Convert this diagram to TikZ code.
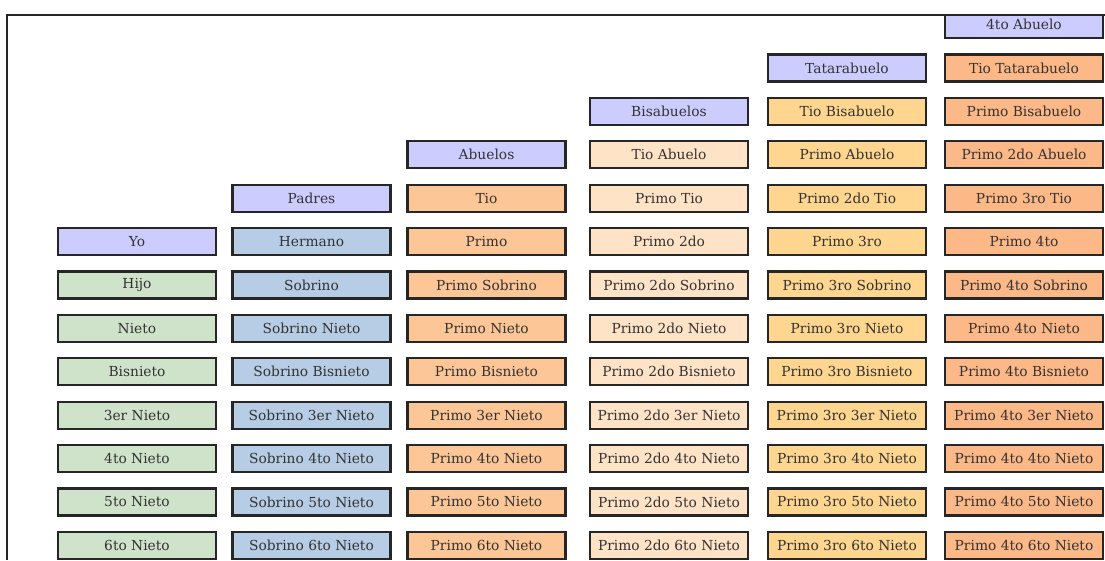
\documentclass[tikz,border=0pt]{standalone}
\usepackage{fontspec}
\setmainfont{DejaVu Serif}
\usetikzlibrary{positioning}
\definecolor{lavender}{HTML}{CCCCFF}
\definecolor{sage}{HTML}{CFE3CA}
\definecolor{steel}{HTML}{B7CDE5}
\definecolor{apricot}{HTML}{FDC697}
\definecolor{peach}{HTML}{FFE3C7}
\definecolor{honey}{HTML}{FFD68F}
\definecolor{salmon}{HTML}{FDB887}

\begin{document}
\begin{tikzpicture}[x=1pt, y=1pt, node distance=43.4pt,
    cell/.style = {draw=black!85, line width=2.2pt, minimum width=158pt, minimum height=27pt, inner sep=0pt, font=\fontsize{13.8}{15}\selectfont, text=black!80},
    top/.style = {fill=lavender}, c1/.style = {fill=sage}, c2/.style = {fill=steel},
    c3/.style = {fill=apricot}, c4/.style = {fill=peach}, c5/.style = {fill=honey}, c6/.style = {fill=salmon}]
    \useasboundingbox (0,0) rectangle (1105,-560);
    \clip (0,-14) rectangle (1105,-560);
    % column 1
    \node[cell, top] (yo) at (137,-241.5) {Yo};
    \node[cell, c1, below of=yo] (hijo) {Hijo};
    \node[cell, c1, below of=hijo] (nieto) {Nieto};
    \node[cell, c1, below of=nieto] (bisnieto) {Bisnieto};
    \node[cell, c1, below of=bisnieto] (nieto3) {3er Nieto};
    \node[cell, c1, below of=nieto3] (nieto4) {4to Nieto};
    \node[cell, c1, below of=nieto4] (nieto5) {5to Nieto};
    \node[cell, c1, below of=nieto5] (nieto6) {6to Nieto};
    % column 2
    \node[cell, top] (padres) at (311.5,-198.1) {Padres};
    \node[cell, c2, below of=padres] (hermano) {Hermano};
    \node[cell, c2, below of=hermano] (sobrino) {Sobrino};
    \node[cell, c2, below of=sobrino] (sobN) {Sobrino Nieto};
    \node[cell, c2, below of=sobN] (sobB) {Sobrino Bisnieto};
    \node[cell, c2, below of=sobB] (sob3) {Sobrino 3er Nieto};
    \node[cell, c2, below of=sob3] (sob4) {Sobrino 4to Nieto};
    \node[cell, c2, below of=sob4] (sob5) {Sobrino 5to Nieto};
    \node[cell, c2, below of=sob5] (sob6) {Sobrino 6to Nieto};
    % column 3
    \node[cell, top] (abuelos) at (486.5,-154.7) {Abuelos};
    \node[cell, c3, below of=abuelos] (tio) {Tio};
    \node[cell, c3, below of=tio] (primo) {Primo};
    \node[cell, c3, below of=primo] (p1S) {Primo Sobrino};
    \node[cell, c3, below of=p1S] (p1N) {Primo Nieto};
    \node[cell, c3, below of=p1N] (p1B) {Primo Bisnieto};
    \node[cell, c3, below of=p1B] (p13) {Primo 3er Nieto};
    \node[cell, c3, below of=p13] (p14) {Primo 4to Nieto};
    \node[cell, c3, below of=p14] (p15) {Primo 5to Nieto};
    \node[cell, c3, below of=p15] (p16) {Primo 6to Nieto};
    % column 4
    \node[cell, top] (bisabuelos) at (669,-111.3) {Bisabuelos};
    \node[cell, c4, below of=bisabuelos] (tioA) {Tio Abuelo};
    \node[cell, c4, below of=tioA] (primoT) {Primo Tio};
    \node[cell, c4, below of=primoT] (primo2) {Primo 2do};
    \node[cell, c4, below of=primo2] (p2S) {Primo 2do Sobrino};
    \node[cell, c4, below of=p2S] (p2N) {Primo 2do Nieto};
    \node[cell, c4, below of=p2N] (p2B) {Primo 2do Bisnieto};
    \node[cell, c4, below of=p2B] (p23) {Primo 2do 3er Nieto};
    \node[cell, c4, below of=p23] (p24) {Primo 2do 4to Nieto};
    \node[cell, c4, below of=p24] (p25) {Primo 2do 5to Nieto};
    \node[cell, c4, below of=p25] (p26) {Primo 2do 6to Nieto};
    % column 5
    \node[cell, top] (tatarabuelo) at (847,-67.9) {Tatarabuelo};
    \node[cell, c5, below of=tatarabuelo] (tioB) {Tio Bisabuelo};
    \node[cell, c5, below of=tioB] (primoA) {Primo Abuelo};
    \node[cell, c5, below of=primoA] (primo2T) {Primo 2do Tio};
    \node[cell, c5, below of=primo2T] (primo3) {Primo 3ro};
    \node[cell, c5, below of=primo3] (p3S) {Primo 3ro Sobrino};
    \node[cell, c5, below of=p3S] (p3N) {Primo 3ro Nieto};
    \node[cell, c5, below of=p3N] (p3B) {Primo 3ro Bisnieto};
    \node[cell, c5, below of=p3B] (p33) {Primo 3ro 3er Nieto};
    \node[cell, c5, below of=p33] (p34) {Primo 3ro 4to Nieto};
    \node[cell, c5, below of=p34] (p35) {Primo 3ro 5to Nieto};
    \node[cell, c5, below of=p35] (p36) {Primo 3ro 6to Nieto};
    % column 6
    \node[cell, top] (abuelo4) at (1024,-24.5) {4to Abuelo};
    \node[cell, c6, below of=abuelo4] (tioTa) {Tio Tatarabuelo};
    \node[cell, c6, below of=tioTa] (primoB) {Primo Bisabuelo};
    \node[cell, c6, below of=primoB] (primo2A) {Primo 2do Abuelo};
    \node[cell, c6, below of=primo2A] (primo3T) {Primo 3ro Tio};
    \node[cell, c6, below of=primo3T] (primo4) {Primo 4to};
    \node[cell, c6, below of=primo4] (p4S) {Primo 4to Sobrino};
    \node[cell, c6, below of=p4S] (p4N) {Primo 4to Nieto};
    \node[cell, c6, below of=p4N] (p4B) {Primo 4to Bisnieto};
    \node[cell, c6, below of=p4B] (p43) {Primo 4to 3er Nieto};
    \node[cell, c6, below of=p43] (p44) {Primo 4to 4to Nieto};
    \node[cell, c6, below of=p44] (p45) {Primo 4to 5to Nieto};
    \node[cell, c6, below of=p45] (p46) {Primo 4to 6to Nieto};
    % frame
    \draw[line width=2pt, black!85] (7,-560) -- (7,-15) -- (1105,-15);
\end{tikzpicture}
\end{document}
